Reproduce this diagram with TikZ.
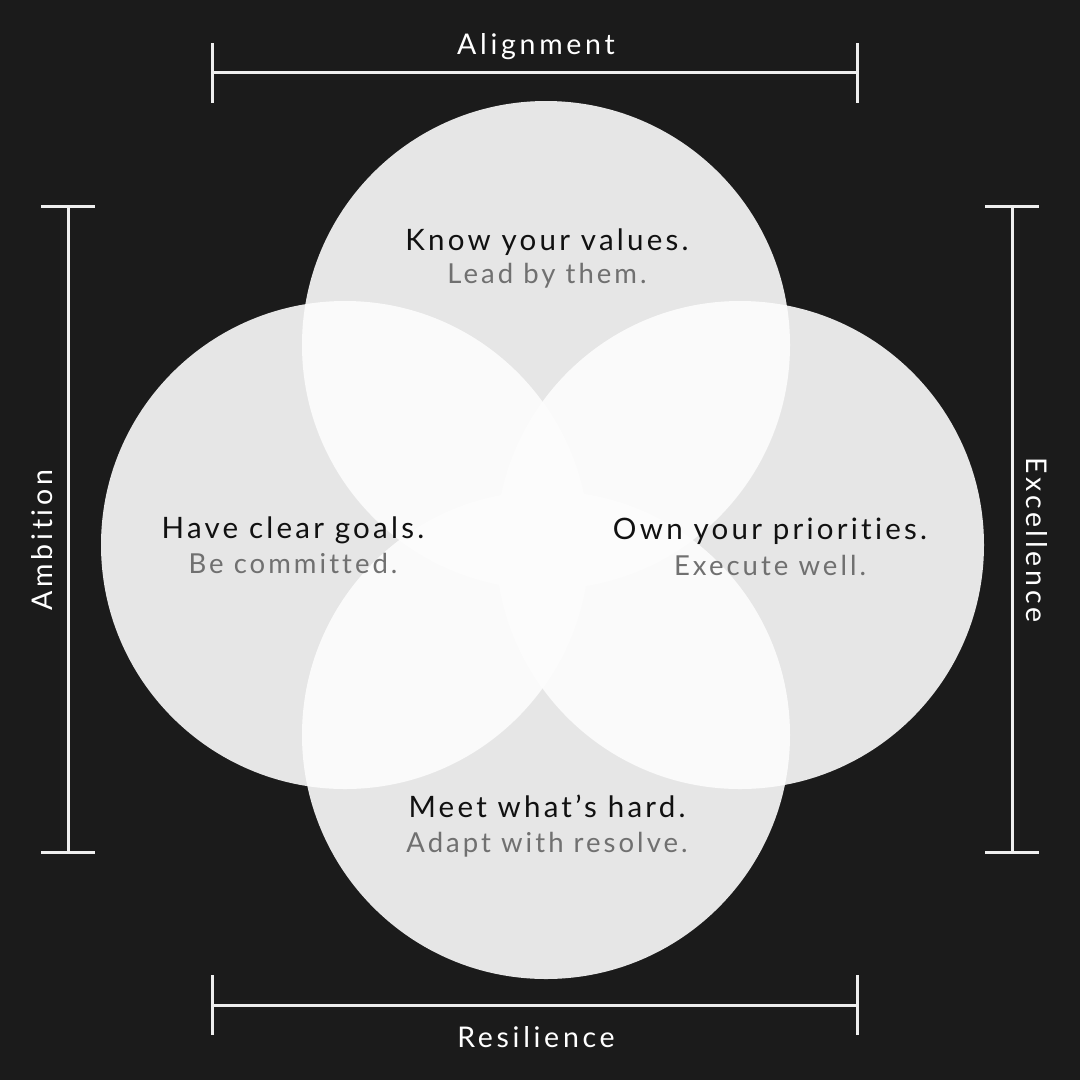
\documentclass[tikz,border=0pt]{standalone}
\usepackage{fontspec}
\setmainfont{Lato}[LetterSpace=11,Ligatures={NoCommon}]
\newfontfamily\labfont{Lato}[LetterSpace=13,Ligatures={NoCommon}]
\definecolor{bg}{HTML}{1B1B1B}
\definecolor{disc}{HTML}{FDFDFD}
\definecolor{ink}{HTML}{111111}
\definecolor{sub}{HTML}{707070}
\definecolor{rule}{HTML}{EEEEEE}
\begin{document}
\begin{tikzpicture}[x=1pt,y=-1pt,
  circ/.style={fill=disc,fill opacity=0.9,draw=none},
  head/.style={anchor=base,text=ink,font=\fontsize{29.5}{31}\selectfont,inner sep=0pt},
  subt/.style={anchor=base,text=sub,font=\fontsize{27.5}{29}\selectfont,inner sep=0pt},
  lab/.style={text=white,font=\labfont\fontsize{28.5}{30}\selectfont,inner sep=0pt},
  bar/.style={draw=rule,line width=3pt}]
\fill[bg] (0,0) rectangle (1080,1080);
\useasboundingbox (0,0) rectangle (1080,1080);
% circles
\fill[circ] (546,345) circle (244);
\fill[circ] (345,545) circle (244);
\fill[circ] (740,545) circle (244);
\fill[circ] (546,735) circle (244);
% texts
\node[head] (t1) at (547,250) {Know your values.};
\node[subt] (s1) at (547,283) {Lead by them.};
\node[head] (t2) at (293,538) {Have clear goals.};
\node[subt] (s2) at (293,573) {Be committed.};
\node[head] (t3) at (770,539) {Own your priorities.};
\node[subt] (s3) at (770,575) {Execute well.};
\node[head] (t4) at (547,817) {Meet what’s hard.};
\node[subt] (s4) at (547,852) {Adapt with resolve.};
% brackets
\coordinate (a1) at (212,72); \coordinate (a2) at (857,72);
\draw[bar] (a1) -- (a2);
\draw[bar] (212,43) -- (212,103);
\draw[bar] (857,43) -- (857,103);
\node[lab,anchor=base] (la) at (536,54) {Alignment};
\coordinate (b1) at (212,1005); \coordinate (b2) at (857,1005);
\draw[bar] (b1) -- (b2);
\draw[bar] (212,975) -- (212,1035);
\draw[bar] (857,975) -- (857,1035);
\node[lab,anchor=base] (lb) at (536,1047) {Resilience};
\coordinate (c1) at (68,206); \coordinate (c2) at (68,852);
\draw[bar] (c1) -- (c2);
\draw[bar] (41,206) -- (95,206);
\draw[bar] (41,852) -- (95,852);
\node[lab,rotate=90] (lc) at (42,540) {Ambition};
\coordinate (d1) at (1012,206); \coordinate (d2) at (1012,852);
\draw[bar] (d1) -- (d2);
\draw[bar] (985,206) -- (1039,206);
\draw[bar] (985,852) -- (1039,852);
\node[lab,rotate=-90] (ld) at (1037,540) {Excellence};
\end{tikzpicture}
\end{document}
